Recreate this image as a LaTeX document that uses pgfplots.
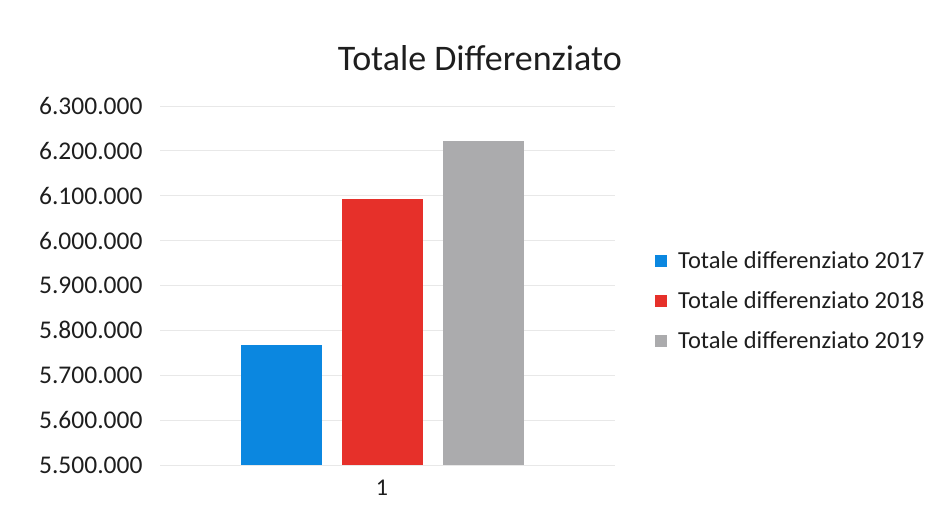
\documentclass[border=0pt]{standalone}
\usepackage{pgfplots}
\pgfplotsset{compat=1.18}
\usepackage{fontspec}
\setmainfont{Carlito}
\definecolor{cblue}{RGB}{11,135,224}
\definecolor{cred}{RGB}{230,48,42}
\definecolor{cgray}{RGB}{171,171,173}
\definecolor{cgrid}{RGB}{232,232,232}
\definecolor{ctext}{RGB}{30,30,30}
\begin{document}
\begin{tikzpicture}
\path[use as bounding box] (-160bp,-48bp) rectangle (770bp,465bp);
\begin{axis}[
  at={(0,0)}, anchor=origin,
  scale only axis,
  width=455bp, height=359bp,
  xmin=0.512, xmax=1.512,
  ymin=5500000, ymax=6300000,
  ytick={5500000,5600000,5700000,5800000,5900000,6000000,6100000,6200000,6300000},
  scaled ticks=false,
  /pgf/number format/assume math mode=true,
  yticklabel style={font=\fontsize{25.5bp}{30bp}\selectfont, text=ctext, xshift=-14bp},
  yticklabel style={/pgf/number format/fixed, /pgf/number format/precision=0, /pgf/number format/1000 sep={.}},
  xtick={1}, xticklabels={1},
  xticklabel style={font=\fontsize{24bp}{28bp}\selectfont, text=ctext, yshift=-12bp},
  axis line style={draw=none},
  major tick length=0pt,
  ymajorgrids, grid style={cgrid, line width=0.8bp},
  ybar=20bp, bar width=81bp,
  clip=true,
  title={Totale Differenziato},
  title style={at={(axis description cs:0.703,1.118)}, anchor=center, font=\fontsize{36bp}{42bp}\selectfont, text=ctext},
  legend style={at={(axis description cs:1.088,0.600)}, anchor=north west, draw=none, fill=none,
    font=\fontsize{24.5bp}{28bp}\selectfont, text=ctext, row sep=17.5bp, inner sep=0pt},
  legend cell align=left,
  legend image code/.code={\fill[#1] (0bp,-6bp) rectangle (12bp,6bp); \path (21bp,0bp);},
]
\addplot[fill=cblue, draw=none] coordinates {(1,5767000)};
\addplot[fill=cred, draw=none] coordinates {(1,6092000)};
\addplot[fill=cgray, draw=none] coordinates {(1,6222000)};
\legend{Totale differenziato 2017, Totale differenziato 2018, Totale differenziato 2019}
\end{axis}
\end{tikzpicture}
\end{document}
